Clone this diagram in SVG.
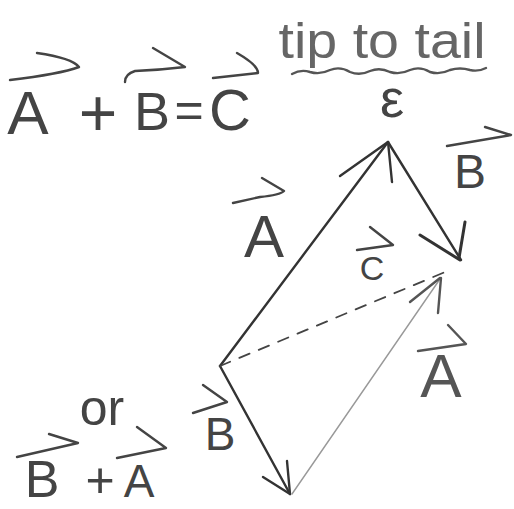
<svg xmlns="http://www.w3.org/2000/svg" width="514" height="509" viewBox="0 0 514 509">
<style>
.t{font-family:"Liberation Sans","DejaVu Sans",sans-serif;font-weight:300;fill:#444;text-anchor:middle}
.ar{fill:none;stroke:#444;stroke-width:2.4;stroke-linecap:round;stroke-linejoin:round}
.v{fill:none;stroke:#333;stroke-width:2.4;stroke-linecap:round;stroke-linejoin:round}
.vl{fill:none;stroke:#999;stroke-width:1.4;stroke-linecap:round}
.dash{fill:none;stroke:#444;stroke-width:1.8;stroke-dasharray:11 10;stroke-linecap:round}
</style>
<rect width="514" height="509" fill="#fff"/>

<g id="equation">
  <text class="t" x="28" y="134" font-size="62">A</text>
  <text class="t" x="98" y="136" font-size="66">+</text>
  <text class="t" x="152" y="130" font-size="54">B</text>
  <text class="t" x="189" y="127" font-size="50">=</text>
  <text class="t" x="230" y="130" font-size="58">C</text>
  <path class="ar" d="M37,53 Q72,58 79,67 Q60,74 10,80"/>
  <path class="ar" d="M153,48 L185,67 Q160,70 135,71 Q125,74 125,82"/>
  <path class="ar" d="M237,53 Q258,65 258,73 L213,78"/>
</g>

<g id="title">
  <text class="t" x="382" y="58" font-size="50" textLength="207" lengthAdjust="spacingAndGlyphs" style="fill:#666">tip to tail</text>
  <path class="ar" style="stroke:#555" d="M292,74 Q301,69 310,72 Q320,75 330,70 Q340,66 350,72 Q360,76 370,71 Q380,67 390,72 Q400,75 410,70 Q420,66 430,72 Q440,75 450,70 Q460,67 470,70 Q478,72 486,68"/>
  <text class="t" x="392" y="117" font-size="54">ε</text>
</g>

<g id="connectors">
  <g id="vecA">
    <path class="v" d="M220,366 L388,142"/>
    <path class="v" d="M340,176 L388,142 L392,182"/>
  </g>
  <g id="vecB">
    <path class="v" d="M388,142 L461,260"/>
    <path class="v" style="stroke-width:3" d="M420,235 L460,260 M465,222 L459,258"/>
  </g>
  <g id="vecB2">
    <path class="v" d="M220,366 L290,494"/>
    <path class="v" d="M263,477 L290,494 L287,461"/>
  </g>
  <g id="vecA2">
    <path class="vl" d="M292,494 L440,279"/>
    <path class="v" style="stroke:#555" d="M410,302 L440,278 M438,313 L441,278"/>
  </g>
  <g id="vecC">
    <path class="dash" d="M220,366 L450,270"/>
  </g>
</g>

<g id="labelA">
  <text class="t" x="264" y="257" font-size="60">A</text>
  <path class="ar" d="M262,178 L284,191 Q280,195 260,197 L233,203"/>
</g>
<g id="labelB">
  <text class="t" x="470" y="188" font-size="48">B</text>
  <path class="ar" d="M485,127 L511,135 L447,146"/>
</g>
<g id="labelC">
  <text class="t" x="372" y="280" font-size="34">C</text>
  <path class="ar" d="M370,227 L393,245 L357,250"/>
</g>
<g id="labelA2">
  <text class="t" x="441" y="397" font-size="62" style="fill:#555">A</text>
  <path class="ar" style="stroke:#555" d="M448,325 L466,344 L418,351"/>
</g>
<g id="labelB2">
  <text class="t" x="220" y="450" font-size="46">B</text>
  <path class="ar" d="M203,385 L227,402 L193,413"/>
</g>

<g id="alternative">
  <text class="t" x="102" y="425" font-size="50">or</text>
  <text class="t" x="42" y="497" font-size="52">B</text>
  <text class="t" x="100" y="497" font-size="50">+</text>
  <text class="t" x="139" y="497" font-size="46">A</text>
  <path class="ar" d="M49,434 L78,443 L17,457"/>
  <path class="ar" d="M137,427 L166,448 L117,458"/>
</g>
</svg>
